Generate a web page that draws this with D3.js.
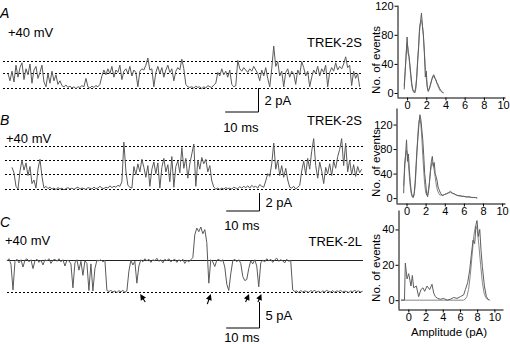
<!DOCTYPE html>
<html>
<head>
<meta charset="utf-8">
<script src="https://cdn.jsdelivr.net/npm/d3@7"></script>
<style>
  body { margin: 0; background: #fff; }
  svg { display: block; font-family: "Liberation Sans", Arial, sans-serif; }
</style>
</head>
<body>
<script>
// single channel traces (pA), one sample every 0.6 ms
const dt = 0.6;

const traceA = [1.2, 0.6, 1.4, 0.5, 1.9, 0.9, 1.7, 2.1, 0.7, 1.6, 1.1, 2.0, 0.4, 1.5, 1.8, 0.8, 1.3, 1.9, 0.5, 0.1,
    1.2, 0.4, 1.4, 0.6, 1.1, 0.3, 0.6, 0.2, 0.1, 0.25, 0.05, 0.15, 0.0, 0.1, -0.05, 0.1, 0.05, 0.2, 0.1, 0.8,
    0.1, 0.0, 0.15, 0.05, 0.2, 0.1, 0.3, 1.0, 1.5, 1.1, 1.6, 1.2, 1.8, 0.9, 1.5, 1.3, 1.9, 0.7, 1.4, 1.6,
    1.2, 1.8, 1.0, 1.5, 1.3, 0.1, 1.4, 1.6, 1.5, 1.9, 2.5, 1.5, 1.6, 0.1, 1.3, 1.8, 1.2, 1.7, 0.9, 1.5,
    1.9, 1.3, 1.6, 0.6, 1.4, 1.7, 1.5, 2.4, 1.6, 0.3, 0.1, 0.05, 0.1, 0.0, 0.15, 0.05, 0.1, -0.05, 0.1, 0.0,
    0.2, 0.1, 0.05, 0.25, 0.4, 1.3, 1.0, 1.6, 1.1, 1.4, 0.9, 1.5, 0.3, 0.1, 0.2, 2.3, 1.6, 1.4, 1.7, 1.5,
    1.3, 1.6, 1.4, 1.8, 1.5, 1.2, 0.6, 1.5, 1.0, 1.7, 0.8, 0.1, 1.6, 3.5, 1.8, 2.2, 1.0, 1.4, 0.1, 1.3,
    1.6, 0.9, 1.4, 1.2, 0.3, 1.5, 1.1, 2.2, 1.7, 1.0, 1.4, 0.1, 0.9, 1.5, 1.2, 1.8, 1.0, 1.6, 1.3, 1.9,
    0.1, 1.3, 1.7, 1.4, 2.1, 1.5, 1.8, 1.6, 2.0, 2.6, 1.7, 1.9, 0.2, 1.4, 0.8, 1.2, 0.1];

const traceB = [2.4, 1.8, 0.3, 0.0, 2.0, 3.2, 2.1, 2.9, 1.5, 2.5, 0.6, 1.0, 0.1, 2.2, 3.3, 1.4, 0.1, 0.3, 0.05, 0.2,
    0.0, 0.1, -0.05, 0.15, 0.0, 0.1, -0.1, 0.05, 0.15, 0.0, 0.1, -0.05, 0.1, 0.2, 0.0, 0.1, 0.05, -0.05, 0.15, 0.1,
    0.0, 0.2, 0.05, 0.1, 0.3, 0.1, 0.05, 0.2, 0.1, 0.35, 0.15, 0.3, 0.2, 0.4, 0.3, 0.8, 5.2, 2.0, 0.4, 0.2,
    0.1, 2.5, 1.6, 2.8, 1.9, 3.3, 2.4, 1.3, 2.6, 0.3, 2.2, 3.0, 1.7, 2.9, 0.1, 2.4, 3.4, 1.9, 2.7, 0.8,
    3.6, 0.2, 2.5, 3.1, 1.8, 4.6, 2.3, 3.4, 1.2, 2.8, 3.9, 5.0, 0.3, 3.2, 2.2, 3.5, 2.8, 3.3, 1.9, 2.6,
    0.9, 0.2, 0.0, 0.1, -0.05, 0.1, 0.0, 0.15, 0.05, 0.1, 0.0, 0.2, 0.1, 0.05, 0.25, 0.1, 0.3, 0.15, 0.35, 0.1,
    0.4, 0.2, 0.3, 0.1, 0.5, 0.3, 0.2, 0.9, 1.7, 1.4, 2.8, 5.1, 2.2, 3.2, 1.5, 2.6, 1.3, 2.3, 1.0, 0.2,
    0.1, 0.3, 0.0, 0.2, 0.4, 2.0, 3.1, 1.6, 3.4, 2.2, 4.2, 5.6, 2.6, 1.2, 3.0, 2.0, 0.6, 2.4, 1.7, 2.8,
    1.5, 3.1, 2.3, 3.6, 4.4, 5.6, 2.6, 5.1, 1.9, 3.2, 1.6, 2.7, 1.4, 2.5, 1.8, 2.2];

const traceC = [6.0, 6.4, 5.3, 0.4, 5.9, 6.3, 5.6, 6.2, 4.8, 6.1, 6.4, 5.8, 6.2, 4.5, 6.0, 6.3, 5.7, 6.1, 5.2, 6.2,
    6.0, 6.4, 5.5, 6.1, 6.3, 5.9, 6.4, 5.8, 6.2, 5.0, 6.1, 6.0, 5.4, 0.8, 5.6, 6.2, 4.2, 5.9, 3.2, 6.0,
    5.5, 0.3, 5.4, 0.2, 4.5, 6.1, 6.0, 6.2, 5.8, 6.1, 0.3, 0.1, 0.3, 0.0, 0.2, -0.1, 0.25, 0.05, 0.3, -0.05,
    0.2, 4.0, 6.1, 5.2, 5.9, 1.7, 5.0, 6.2, 5.8, 6.4, 6.0, 6.3, 5.7, 6.2, 6.0, 6.5, 5.9, 6.2, 5.6, 6.3,
    6.0, 6.4, 5.8, 6.1, 6.3, 5.7, 6.2, 5.9, 6.3, 5.5, 6.1, 5.8, 6.2, 6.6, 11.0, 12.3, 11.6, 12.5, 11.2, 12.0,
    9.5, 1.7, 6.2, 5.8, 4.9, 6.1, 6.3, 5.9, 6.2, 4.8, 1.5, 0.3, 3.5, 6.0, 6.3, 5.8, 6.2, 5.5, 3.0, 2.2,
    2.4, 4.5, 6.0, 5.4, 6.2, 5.0, 1.0, 5.6, 6.1, 5.8, 6.4, 6.0, 6.3, 5.7, 6.2, 6.5, 5.9, 6.2, 6.0, 5.6,
    6.3, 5.9, 6.1, 0.4, 0.1, 0.2, -0.1, 0.3, 0.0, 0.2, 0.1, -0.05, 0.25, 0.1, 0.3, 0.0, 0.15, -0.1, 0.2, 0.05,
    0.3, 0.1, 0.0, 0.25, -0.05, 0.2, 0.1, 0.3, 0.0, 0.15, 0.1, -0.1, 0.2, 0.05, 0.3, 0.1, 0.2, 0.0, 0.15];

// current levels marked on the traces (pA)
const levelsA = [0, 1.25, 2.25];
const levelsB = [0, 1.67, 3.2, 4.8];
const openC = 6.15;
const closedC = 0;

// arrows in C: [time (ms), pA] of the tip
const arrowsC = [[40, -0.4], [61.2, -0.4], [72.7, -0.4], [76.4, -0.4]];

// amplitude histograms
const ampA = [-0.3, -0.2, -0.1, 0, 0.1, 0.2, 0.3, 0.4, 0.5, 0.6, 0.7, 0.8, 0.9, 1.0, 1.1, 1.2, 1.3, 1.4, 1.5, 1.6,
    1.7, 1.8, 1.9, 2.0, 2.1, 2.2, 2.3, 2.4, 2.5, 2.6, 2.7, 2.8, 2.9, 3.0, 3.1, 3.2, 3.3, 3.4, 3.5, 3.6, 3.7, 3.8];
const countA = [5, 30, 50, 77, 55, 50, 38, 25, 12, 5, 2, 0, 5, 20, 45, 62, 90, 98, 110, 92,
    80, 55, 22, 30, 8, 2, 5, 10, 15, 20, 24, 25, 20, 18, 14, 12, 9, 6, 4, 2, 1, 0];
const fitA = [10, 30, 55, 68, 62, 50, 35, 20, 9, 3, 1, 2, 8, 22, 42, 65, 85, 97, 100, 93,
    78, 57, 37, 20, 9, 4, 5, 9, 14, 19, 22, 23, 21, 18, 14, 10, 7, 4, 2.5, 1.5, 0.7, 0.3];

const ampB = [-0.3, -0.2, -0.1, 0, 0.1, 0.2, 0.3, 0.4, 0.5, 0.6, 0.7, 0.8, 0.9, 1.0, 1.1, 1.2, 1.3, 1.4, 1.5, 1.6,
    1.7, 1.8, 1.9, 2.0, 2.1, 2.2, 2.3, 2.4, 2.5, 2.6, 2.7, 2.8, 2.9, 3.0, 3.1, 3.2, 3.3, 3.4, 3.5, 3.6,
    3.7, 3.8, 3.9, 4.0, 4.2, 4.4, 4.6, 4.8, 5.0, 5.2, 5.4, 5.6, 5.8, 6.0, 6.2, 6.4, 6.6, 6.8, 7.0, 7.2, 7.4];
const countB = [8, 55, 70, 95, 60, 72, 45, 25, 10, 3, 1, 8, 25, 55, 80, 100, 120, 136, 128, 112,
    95, 70, 40, 25, 8, 2, 10, 25, 45, 60, 68, 52, 58, 40, 35, 28, 18, 14, 10, 7,
    5, 4, 5, 6, 7, 9, 11, 8, 7, 5, 4, 4, 3, 3, 2, 2, 2, 1, 1, 1, 0];
const fitB = [20, 45, 68, 78, 72, 55, 35, 18, 7, 2, 1, 5, 20, 45, 78, 108, 126, 130, 120, 98,
    70, 44, 22, 10, 5, 6, 14, 27, 42, 54, 58, 54, 45, 34, 23, 15, 10, 7, 5, 5,
    5, 5, 5.5, 6, 7.5, 8.5, 9, 8, 6.5, 5, 4, 3.5, 3, 2.5, 2.2, 1.9, 1.6, 1.2, 1, 0.7, 0.5];

const ampC = [-0.85, -0.45, -0.35, -0.15, 0.04, 0.31, 0.47, 0.62, 0.93, 1.2, 1.47, 1.7, 1.9, 2.17, 2.48, 2.75,
    2.95, 3.14, 3.41, 3.72, 4.1, 4.5, 4.88, 5.27, 5.66, 6.05, 6.43, 6.63, 6.9, 7.13, 7.33, 7.52, 7.71, 7.87,
    7.98, 8.14, 8.3, 8.45, 8.6, 8.84, 9.07, 9.34];
const countC = [0, 0, 21, 12, 15, 8, 14, 7, 8, 2, 6, 7, 5, 8, 6, 9, 4, 2, 1, 0.5,
    1, 0, 0.5, 1.5, 1, 2, 3, 6, 10, 17, 26, 34, 32, 43, 45, 36, 40, 28, 19, 8, 2, 0];
const fitAmpC = [-0.85, 6.4, 6.6, 6.8, 7.0, 7.2, 7.4, 7.6, 7.8, 8.0, 8.2, 8.4, 8.6, 8.8, 9.0, 9.2, 9.5];
const fitC = [0, 0, 0.5, 2, 6, 14, 25, 36, 42, 40, 31, 20, 10, 4, 1.5, 0.5, 0];

const ampTicks = [0, 2, 4, 6, 8, 10];
const eventTicksAB = [0, 40, 80, 120];
const eventTicksC = [0, 20, 40];

const svg = d3.select('body')
    .append('svg')
        .attr('width', 510)
        .attr('height', 344);

const traceColor = '#5a5a5a';
const t = d3.scaleLinear().domain([0, 10]).range([0, 33.3]);

function text(x, y, s, opts = {}) {
    return svg.append('text')
        .attr('x', x)
        .attr('y', y)
        .attr('font-size', opts.size || '13px')
        .attr('font-style', opts.italic ? 'italic' : null)
        .attr('text-anchor', opts.anchor || 'start')
        .attr('fill', '#000')
        .text(s);
}

function hline(y, x1, x2, dotted, color) {
    svg.append('line')
        .attr('x1', x1).attr('x2', x2)
        .attr('y1', y).attr('y2', y)
        .attr('stroke', color || '#000')
        .attr('stroke-width', 1)
        .attr('stroke-dasharray', dotted ? '2,2' : null);
}

function drawTrace(data, x0, y) {
    const line = d3.line()
        .x((d, i) => x0 + t(i * dt))
        .y(d => y(d));
    svg.append('path')
        .datum(data)
        .attr('d', line)
        .attr('fill', 'none')
        .attr('stroke', traceColor)
        .attr('stroke-width', 1)
        .attr('stroke-linejoin', 'round');
}

function scaleBar(x, yTop, y, pA, label, msLabelY) {
    const yBot = yTop + (y(0) - y(pA));
    svg.append('path')
        .attr('d', `M${x},${yTop}V${yBot}H${x - t(10)}`)
        .attr('fill', 'none')
        .attr('stroke', '#000')
        .attr('stroke-width', 1);
    text(x + 6, (yTop + yBot) / 2 + 5, label);
    text(x - t(10) / 2 - 1, msLabelY, '10 ms', { anchor: 'middle' });
}

// ---- panel A
const yA = d3.scaleLinear().domain([0, 1]).range([88, 76]);
text(0, 18, 'A', { italic: true, size: '14px' });
text(8, 37, '+40 mV');
text(362, 47, 'TREK-2S', { anchor: 'end' });
levelsA.forEach(l => hline(Math.round(yA(l)) + 0.5, 3, 363, true));
drawTrace(traceA, 8, yA);
scaleBar(258.5, 88, yA, 2, '2 pA', 132);

// ---- panel B
const yB = d3.scaleLinear().domain([0, 1]).range([189, 180]);
text(0, 125, 'B', { italic: true, size: '14px' });
text(6, 143, '+40 mV');
text(362, 125, 'TREK-2S', { anchor: 'end' });
levelsB.forEach(l => hline(Math.round(yB(l)) + 0.5, 5, 363, true));
drawTrace(traceB, 12, yB);
scaleBar(259.5, 193, yB, 2, '2 pA', 230);

// ---- panel C
const yC = d3.scaleLinear().domain([0, 1]).range([292, 286.8]);
text(0, 227, 'C', { italic: true, size: '14px' });
text(5, 245, '+40 mV');
text(362, 246, 'TREK-2L', { anchor: 'end' });
hline(Math.round(yC(openC)) + 0.5, 7, 363, false, '#222');
hline(Math.round(yC(closedC)) + 0.5, 7, 363, true);
drawTrace(traceC, 7, yC);
scaleBar(259.5, 302, yC, 5, '5 pA', 342);

// arrows
arrowsC.forEach((a, i) => {
    const tx = 7 + t(a[0]);
    const ty = yC(a[1]);
    const dx = i === 0 ? 5 : -3.5;
    const dy = i === 1 ? 10 : 8;
    const len = Math.hypot(dx, dy);
    const ux = -dx / len, uy = -dy / len;
    svg.append('line')
        .attr('x1', tx + dx).attr('y1', ty + dy)
        .attr('x2', tx - ux * 2).attr('y2', ty - uy * 2)
        .attr('stroke', '#000').attr('stroke-width', 1.1);
    const hl = 6, hw = 3;
    const bx = tx - ux * hl, by = ty - uy * hl;
    svg.append('path')
        .attr('d', `M${tx},${ty}L${bx - uy * hw},${by + ux * hw}L${bx + uy * hw},${by - ux * hw}Z`)
        .attr('fill', '#000');
});

// ---- histograms
function drawHist(cfg) {
    const x = d3.scaleLinear().domain(cfg.xDomain).range(cfg.xRange);
    const y = d3.scaleLinear().domain(cfg.yDomain).range(cfg.yRange);
    const g = svg.append('g');

    const line = d3.line().x(d => x(d[0])).y(d => y(d[1]));
    g.append('path')
        .datum(cfg.fitX.map((v, i) => [v, cfg.fit[i]]))
        .attr('d', line)
        .attr('fill', 'none')
        .attr('stroke', '#888')
        .attr('stroke-width', 1);
    g.append('path')
        .datum(cfg.ampX.map((v, i) => [v, cfg.counts[i]]))
        .attr('d', line)
        .attr('fill', 'none')
        .attr('stroke', '#5e5e5e')
        .attr('stroke-width', 1);

    const xAxis = g.append('g')
        .attr('transform', `translate(0, ${cfg.yRange[0] + 0.5})`)
        .call(d3.axisBottom(x).tickValues(ampTicks).tickSize(3).tickSizeOuter(0).tickPadding(1));
    const yAxis = g.append('g')
        .attr('transform', `translate(${cfg.xRange[0] + 0.5}, 0)`)
        .call(d3.axisLeft(y).tickValues(cfg.yTicks).tickSize(3).tickSizeOuter(0).tickPadding(1));
    [xAxis, yAxis].forEach(a => {
        a.attr('font-family', null).attr('font-size', null);
        a.selectAll('text').attr('font-size', '11px').attr('fill', '#000');
        a.selectAll('line, path').attr('stroke', '#000');
    });

    svg.append('text')
        .attr('transform', `translate(${cfg.titleX}, ${cfg.titleY}) rotate(-90)`)
        .attr('text-anchor', 'middle')
        .attr('font-size', '11.5px')
        .text('No. of events');
}

drawHist({
    xDomain: [-1.05, 10.2], xRange: [397, 505],
    yDomain: [-5.5, 121], yRange: [97, 5],
    yTicks: eventTicksAB,
    ampX: ampA, counts: countA, fitX: ampA, fit: fitA,
    titleX: 380, titleY: 60
});

drawHist({
    xDomain: [-1.1, 10.3], xRange: [396, 505],
    yDomain: [-8, 147], yRange: [203, 108],
    yTicks: eventTicksAB,
    ampX: ampB, counts: countB, fitX: ampB, fit: fitB,
    titleX: 380, titleY: 163
});

drawHist({
    xDomain: [-1.2, 11], xRange: [398, 503],
    yDomain: [-5, 51], yRange: [309, 210],
    yTicks: eventTicksC,
    ampX: ampC, counts: countC, fitX: fitAmpC, fit: fitC,
    titleX: 380, titleY: 268
});

svg.append('text')
    .attr('x', 449)
    .attr('y', 336)
    .attr('text-anchor', 'middle')
    .attr('font-size', '11.5px')
    .text('Amplitude (pA)');
</script>
</body>
</html>
